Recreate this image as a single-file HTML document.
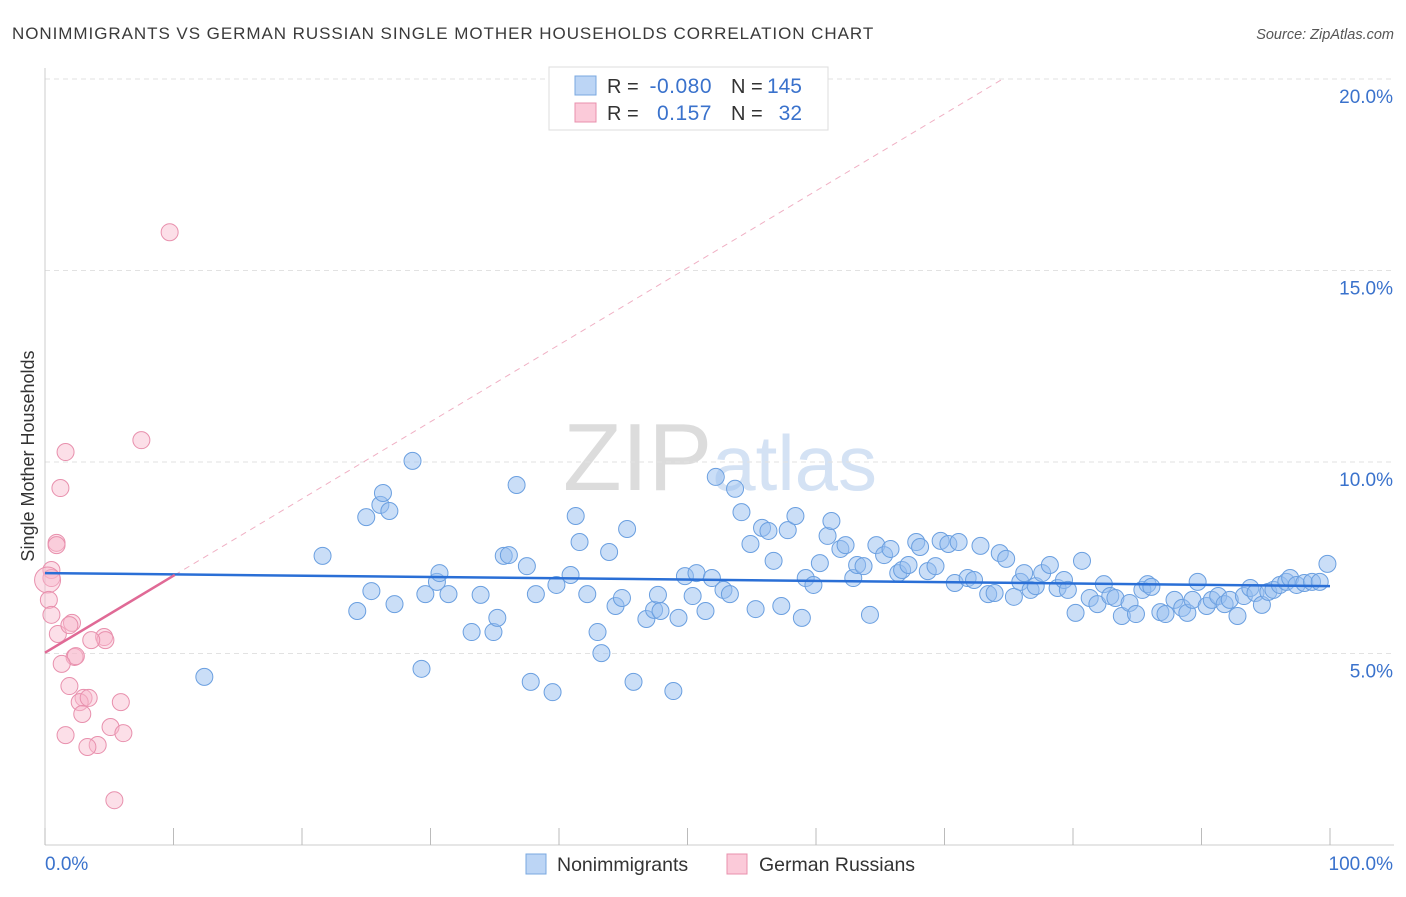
<!DOCTYPE html>
<html><head><meta charset="utf-8"><style>
body{margin:0;background:#fff;font-family:"Liberation Sans",sans-serif;}
svg text{font-family:"Liberation Sans",sans-serif;}
</style></head><body>
<svg id="chart" width="1406" height="892" xmlns="http://www.w3.org/2000/svg">
<text x="12" y="39" font-size="17" letter-spacing="0.95" fill="#3a3a3a">NONIMMIGRANTS VS GERMAN RUSSIAN SINGLE MOTHER HOUSEHOLDS CORRELATION CHART</text>
<text x="1394" y="39" font-size="14.5" fill="#555" text-anchor="end" font-style="italic">Source: ZipAtlas.com</text>
<text x="720" y="490" font-size="96" text-anchor="middle" fill="#e4e4e4" font-family="Liberation Serif"><tspan fill="#dcdcdc">ZIP</tspan><tspan fill="#d4e2f4" font-family="Liberation Sans" font-size="78">atlas</tspan></text>
<g id="grid"></g>
<g id="marks"></g>
<text transform="translate(34,456) rotate(-90)" font-size="18" fill="#333" text-anchor="middle">Single Mother Households</text>
<g>
<rect x="549" y="67" width="279" height="63" fill="#fff" stroke="#ddd"/>
<rect x="575" y="76" width="21" height="19" fill="#bcd5f5" stroke="#7aa8e0"/>
<rect x="575" y="103" width="21" height="19" fill="#fbcad9" stroke="#e890ad"/>
<text x="607" y="93" font-size="20" fill="#333">R =</text>
<text x="712" y="93" font-size="21" letter-spacing="0.5" fill="#3a72cc" text-anchor="end">-0.080</text>
<text x="731" y="93" font-size="20" fill="#333">N =</text>
<text x="802" y="93" font-size="21" fill="#3a72cc" text-anchor="end">145</text>
<text x="607" y="120" font-size="20" fill="#333">R =</text>
<text x="712" y="120" font-size="21" letter-spacing="0.5" fill="#3a72cc" text-anchor="end">0.157</text>
<text x="731" y="120" font-size="20" fill="#333">N =</text>
<text x="802" y="120" font-size="21" fill="#3a72cc" text-anchor="end">32</text>
</g>
<g>
<rect x="526" y="854" width="20" height="20" fill="#bcd5f5" stroke="#7aa8e0"/>
<text x="557" y="871" font-size="19.5" fill="#333">Nonimmigrants</text>
<rect x="727" y="854" width="20" height="20" fill="#fbcad9" stroke="#e890ad"/>
<text x="759" y="871" font-size="19.5" fill="#333">German Russians</text>
</g>
</svg>
<script>
const yTicks=[5,10,15,20];
const yTickLabels=["5.0%","10.0%","15.0%","20.0%"];
const xTickLabels=["0.0%","100.0%"];
const blueX=[12.4,21.6,24.3,25.0,25.4,26.1,26.3,26.8,27.2,28.6,29.3,29.6,30.5,30.7,31.4,33.2,33.9,34.9,35.2,35.7,36.1,36.7,37.5,37.8,38.2,39.5,39.8,40.9,41.3,41.6,42.2,43.0,43.3,43.9,44.4,44.9,45.3,45.8,46.8,47.4,47.7,47.9,48.9,49.3,49.8,50.4,50.7,51.4,51.9,52.2,52.8,53.3,53.7,54.2,54.9,55.3,55.8,56.3,56.7,57.3,57.8,58.4,58.9,59.2,59.8,60.3,60.9,61.2,61.9,62.3,62.9,63.2,63.7,64.2,64.7,65.3,65.8,66.4,66.7,67.2,67.8,68.1,68.7,69.3,69.7,70.3,70.8,71.1,71.8,72.3,72.8,73.4,73.9,74.3,74.8,75.4,75.9,76.2,76.7,77.1,77.6,78.2,78.8,79.3,79.6,80.2,80.7,81.3,81.9,82.4,82.9,83.3,83.8,84.4,84.9,85.4,85.8,86.1,86.8,87.2,87.9,88.5,88.9,89.3,89.7,90.4,90.8,91.3,91.8,92.2,92.8,93.3,93.8,94.2,94.7,95.2,95.6,96.1,96.6,96.9,97.4,98.0,98.6,99.2,99.8];
const blueY=[4.39,7.55,6.11,8.56,6.63,8.88,9.19,8.72,6.29,10.03,4.60,6.55,6.87,7.10,6.55,5.56,6.53,5.56,5.93,7.55,7.57,9.40,7.28,4.26,6.55,3.99,6.79,7.05,8.59,7.91,6.55,5.56,5.01,7.65,6.24,6.45,8.25,4.26,5.90,6.14,6.53,6.11,4.02,5.93,7.02,6.50,7.10,6.11,6.97,9.61,6.66,6.55,9.30,8.69,7.86,6.16,8.28,8.20,7.42,6.24,8.22,8.59,5.93,6.97,6.79,7.36,8.07,8.46,7.73,7.83,6.97,7.31,7.28,6.01,7.83,7.57,7.73,7.10,7.18,7.31,7.91,7.78,7.15,7.28,7.94,7.86,6.84,7.91,6.97,6.92,7.81,6.55,6.58,7.62,7.47,6.48,6.87,7.10,6.66,6.76,7.10,7.31,6.71,6.92,6.66,6.06,7.42,6.45,6.29,6.81,6.50,6.45,5.98,6.32,6.03,6.66,6.81,6.74,6.08,6.03,6.40,6.19,6.06,6.40,6.87,6.24,6.40,6.50,6.29,6.40,5.98,6.50,6.71,6.58,6.27,6.61,6.66,6.79,6.87,6.97,6.79,6.84,6.87,6.87,7.34];
const pinkX=[9.7,7.5,1.6,1.2,0.9,0.9,0.5,0.5,0.2,0.3,0.5,1.0,2.1,1.9,4.6,4.7,3.6,2.3,2.4,1.3,1.9,3.0,2.7,3.4,5.9,2.9,5.1,6.1,1.6,4.1,3.3,5.4];
const pinkY=[16.0,10.57,10.26,9.32,7.89,7.83,7.18,6.97,6.92,6.40,6.01,5.51,5.80,5.74,5.43,5.35,5.35,4.91,4.93,4.73,4.15,3.84,3.73,3.84,3.73,3.42,3.08,2.92,2.87,2.61,2.56,1.17];
const blueTrend=[7.10,6.76];
const pinkTrend=[5.02,7.05];
const pinkTrendEnd=10.1;
const NS="http://www.w3.org/2000/svg";
const X0=45,X1=1330,Y0=845,YPER=38.3;
const sx=v=>X0+(X1-X0)*v/100;
const sy=v=>Y0-v*YPER;
function mk(tag,attrs,parent){const e=document.createElementNS(NS,tag);for(const k in attrs)e.setAttribute(k,attrs[k]);parent.appendChild(e);return e;}
const grid=document.getElementById('grid'),marks=document.getElementById('marks');
yTicks.forEach((t,i)=>{
  const l=mk('line',{x1:45,x2:1394,y1:sy(t),y2:sy(t),stroke:'#e2e2e2','stroke-dasharray':'5,4'},grid);
  
  
  const tx=mk('text',{x:1393,y:sy(t)+24,'font-size':19,fill:'#3a72cc','text-anchor':'end'},grid);
  tx.textContent=yTickLabels[i];
  
  
});
const ax=mk('line',{x1:45,x2:1394,y1:Y0,y2:Y0,stroke:'#ccc'},grid);


const ay=mk('line',{x1:45,x2:45,y1:68,y2:Y0,stroke:'#ccc'},grid);


for(let i=0;i<=10;i++){
  const t=mk('line',{x1:sx(i*10),x2:sx(i*10),y1:Y0-17,y2:Y0,stroke:'#bbb'},grid);
  
  
}
[[0,'start',45],[100,'end',1393]].forEach((d,i)=>{
  const tx=mk('text',{x:d[2],y:870,'font-size':19,fill:'#3a72cc','text-anchor':d[1]},grid);
  tx.textContent=xTickLabels[i];
  
  
});
const xEnd=(20-pinkTrend[0])/((pinkTrend[1]-pinkTrend[0])/pinkTrendEnd);
const dl=mk('line',{x1:sx(pinkTrendEnd),y1:sy(pinkTrend[1]),x2:sx(xEnd),y2:sy(20),stroke:'#f0b0c4','stroke-dasharray':'6,5','stroke-width':1},marks);


blueX.forEach((x,i)=>{
  const c=mk('circle',{cx:sx(x),cy:sy(blueY[i]),r:8.5,fill:'rgba(150,190,240,0.5)',stroke:'#6a9fe0','stroke-width':1},marks);
  
  
});
pinkX.forEach((x,i)=>{
  const c=mk('circle',{cx:sx(x),cy:sy(pinkY[i]),r:i==8?13:8.5,fill:'rgba(248,185,205,0.45)',stroke:'#e890ad','stroke-width':1},marks);
  
  
});
const bl=mk('line',{x1:sx(0),y1:sy(blueTrend[0]),x2:sx(100),y2:sy(blueTrend[1]),stroke:'#2a6fd6','stroke-width':2.5},marks);


const pl=mk('line',{x1:sx(0),y1:sy(pinkTrend[0]),x2:sx(pinkTrendEnd),y2:sy(pinkTrend[1]),stroke:'#e06a96','stroke-width':2.5},marks);


</script>
</body></html>
